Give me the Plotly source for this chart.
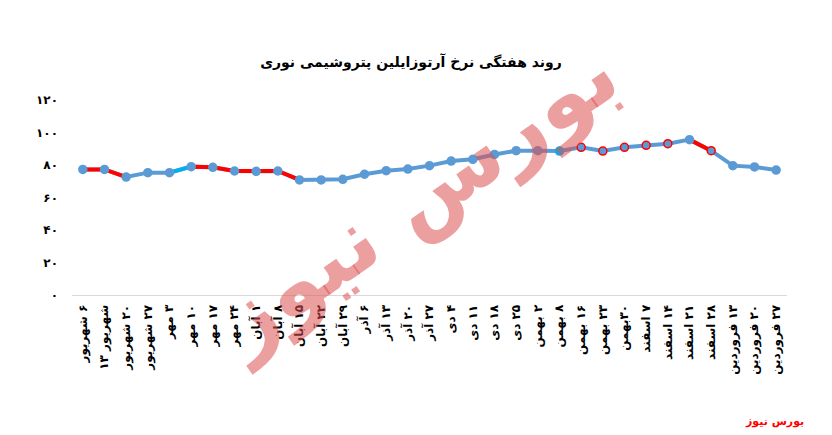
import plotly.graph_objects as go

RLM = "\u200f"

# weekly dates (Persian calendar), as printed on the x axis
dates = [
    RLM + "۶ شهریور", "۱۳ شهریور", RLM + "۲۰ شهریور", RLM + "۲۷ شهریور",
    RLM + "۳ مهر", RLM + "۱۰ مهر", RLM + "۱۷ مهر", RLM + "۲۴ مهر",
    RLM + "۱ آبان", RLM + "۸ آبان", RLM + "۱۵ آبان", RLM + "۲۲ آبان", RLM + "۲۹ آبان",
    RLM + "۶ آذر", RLM + "۱۳ آذر", RLM + "۲۰ آذر", RLM + "۲۷ آذر",
    RLM + "۴ دی", RLM + "۱۱ دی", RLM + "۱۸ دی", RLM + "۲۵ دی",
    RLM + "۲ بهمن", RLM + "۸ بهمن", RLM + "۱۶ بهمن", RLM + "۲۳ بهمن", RLM + "۳۰بهمن",
    RLM + "۷ اسفند", RLM + "۱۴ اسفند", RLM + "۲۱ اسفند", RLM + "۲۸ اسفند",
    RLM + "۱۳ فروردین", RLM + "۲۰ فروردین", RLM + "۲۷ فروردین",
]
prices = [77.3, 77.3, 72.6, 75.3, 75.3, 79.0, 78.6, 76.3, 76.1, 76.3, 70.8,
          70.8, 71.2, 74.3, 76.5, 77.5, 79.6, 82.4, 83.5, 86.5, 88.8, 88.8,
          88.6, 90.9, 88.6, 90.9, 92.1, 93.1, 95.6, 88.8, 79.6, 78.8, 76.9]

y_ticks = [0, 20, 40, 60, 80, 100, 120]
y_tick_labels = ["۰", "۲۰", "۴۰", "۶۰", "۸۰", "۱۰۰", "۱۲۰"]

# highlighted pieces of the line (start, end point index)
red_runs = [(0, 2), (5, 10), (28, 29)]
cyan_runs = [(4, 5)]
cyan_points = [22]
red_ring_points = [23, 24, 25, 26, 27, 29]

BLUE = "#5B9BD5"
RED = "#FF0000"
CYAN = "#00B0F0"
FONT = "DejaVu Sans"

fig = go.Figure()
fig.add_trace(go.Scatter(x=dates, y=prices, mode="lines",
                         line=dict(color=BLUE, width=4), hoverinfo="skip"))
for runs, col in [(red_runs, RED), (cyan_runs, CYAN)]:
    for a, b in runs:
        fig.add_trace(go.Scatter(x=dates[a:b + 1], y=prices[a:b + 1], mode="lines",
                                 line=dict(color=col, width=4), hoverinfo="skip"))

fill = [CYAN if i in cyan_points else BLUE for i in range(len(prices))]
ring = [RED if i in red_ring_points else fill[i] for i in range(len(prices))]
fig.add_trace(go.Scatter(x=dates, y=prices, mode="markers",
                         marker=dict(size=8, color=fill, line=dict(color=ring, width=1.5))))

# the page body adds ~8px, so margins are shifted back by that much
fig.update_layout(
    width=832, height=435,
    margin=dict(l=64, r=53, t=92, b=148),
    paper_bgcolor="white", plot_bgcolor="white",
    showlegend=False,
    font=dict(family=FONT, color="black"),
    title=dict(text="<b>روند هفتگی نرخ آرتوزایلین پتروشیمی نوری</b>",
               x=403 / 832, xanchor="center", y=1 - 54 / 435, yanchor="middle",
               font=dict(size=14, family=FONT, color="black")),
)
fig.update_xaxes(type="category", categoryorder="array", categoryarray=dates,
                 range=[-0.5, len(dates) - 0.5], automargin=False,
                 showgrid=False, showline=True, linecolor="#d9d9d9", linewidth=1,
                 tickangle=-90, ticks="", ticklabelstandoff=4,
                 tickfont=dict(size=12, family=FONT, color="black", weight="bold"))
fig.update_yaxes(range=[0, 120], automargin=False, showgrid=False, zeroline=False, showline=False,
                 tickvals=y_ticks, ticktext=y_tick_labels, ticks="",
                 ticklabelstandoff=13,
                 tickfont=dict(size=12, family=FONT, color="black", weight="bold"))

# faded site watermark
fig.add_annotation(text="بورس نیوز", xref="paper", yref="paper", x=0.48, y=0.5,
                   showarrow=False, textangle=-35,
                   font=dict(size=88, family=FONT, color="rgba(220,80,80,0.55)", weight="bold"))
# source credit
fig.add_annotation(text="<b>بورس نیوز</b>", xref="paper", yref="paper", x=1.026, y=-0.651,
                   xanchor="right", yanchor="middle", showarrow=False,
                   font=dict(size=11, family=FONT, color="#FF0000"))

fig.write_html("out.html")
